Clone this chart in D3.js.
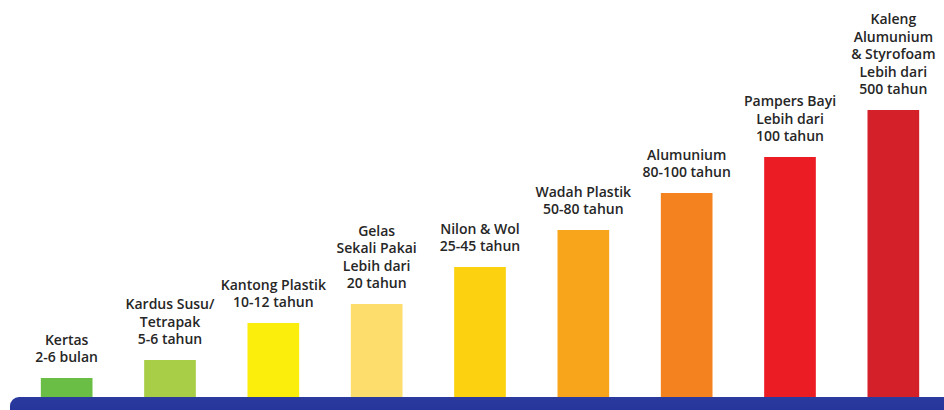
<!DOCTYPE html>
<html>
<head>
<meta charset="utf-8">
<script src="https://cdn.jsdelivr.net/npm/d3@7"></script>
<style>
  html, body { margin: 0; padding: 0; background: #fff; }
  svg { display: block; }
  .label { font-family: 'Open Sans', sans-serif; font-weight: 600; font-size: 14px; fill: #262626; }
</style>
</head>
<body>
<svg></svg>
<script>
const CATEGORIES = ['Kertas', 'Kardus Susu', 'Kantong Plastik', 'Gelas', 'Nilon & Wol',
    'Wadah Plastik', 'Alumunium', 'Pampers Bayi', 'Kaleng']
// bar heights as drawn (illustrative, not to scale with years)
const VALUES = [19, 37, 74, 93, 130, 167, 204, 240, 287]
const LABELS = [
    ['Kertas', '2-6 bulan'],
    ['Kardus Susu/', 'Tetrapak', '5-6 tahun'],
    ['Kantong Plastik', '10-12 tahun'],
    ['Gelas', 'Sekali Pakai', 'Lebih dari', '20 tahun'],
    ['Nilon & Wol', '25-45 tahun'],
    ['Wadah Plastik', '50-80 tahun'],
    ['Alumunium', '80-100 tahun'],
    ['Pampers Bayi', 'Lebih dari', '100 tahun'],
    ['Kaleng', 'Alumunium', '& Styrofoam', 'Lebih dari', '500 tahun']
]
const COLORS = ['#6abd45', '#a8cd47', '#fcee0c', '#fddd6c', '#fcd10f',
    '#f9a51b', '#f4821f', '#ec1c24', '#d42129']

const WIDTH = 944
const HEIGHT = 410
const BASE = 397
const LINE_H = 17.5

const x = d3.scaleBand()
    .domain(CATEGORIES)
    .range([15, 945])
    .paddingInner(0.5)
    .paddingOuter(0.25)

const y = d3.scaleLinear()
    .domain([0, 300])
    .range([BASE, BASE - 300])

const svg = d3.select('svg')
    .attr('width', WIDTH)
    .attr('height', HEIGHT)

const data = CATEGORIES.map((c, i) => ({ cat: c, value: VALUES[i], lines: LABELS[i], color: COLORS[i] }))

svg.selectAll('.bar')
    .data(data)
    .enter()
    .append('rect')
    .classed('bar', true)
    .attr('x', d => x(d.cat))
    .attr('y', d => y(d.value))
    .attr('width', x.bandwidth())
    .attr('height', d => y(0) - y(d.value))
    .attr('fill', d => d.color)

// blue base band
const grad = svg.append('defs').append('linearGradient')
    .attr('id', 'band').attr('x1', 0).attr('y1', 0).attr('x2', 0).attr('y2', 1)
grad.append('stop').attr('offset', '0%').attr('stop-color', '#2a3a9e')
grad.append('stop').attr('offset', '100%').attr('stop-color', '#1f2c94')
svg.append('rect')
    .attr('x', 10)
    .attr('y', y(0))
    .attr('width', WIDTH + 20)
    .attr('height', 40)
    .attr('rx', 9)
    .attr('fill', 'url(#band)')

const labels = svg.selectAll('.label')
    .data(data)
    .enter()
    .append('text')
    .classed('label', true)
    .attr('text-anchor', 'middle')
    .attr('x', d => x(d.cat) + x.bandwidth() / 2)
    .attr('y', d => y(d.value) - 16 - (d.lines.length - 1) * LINE_H)

labels.selectAll('tspan')
    .data(d => d.lines.map(t => ({ t, cx: x(d.cat) + x.bandwidth() / 2 })))
    .enter()
    .append('tspan')
    .attr('x', d => d.cx)
    .attr('dy', (d, i) => i === 0 ? 0 : LINE_H)
    .text(d => d.t)
</script>
</body>
</html>
